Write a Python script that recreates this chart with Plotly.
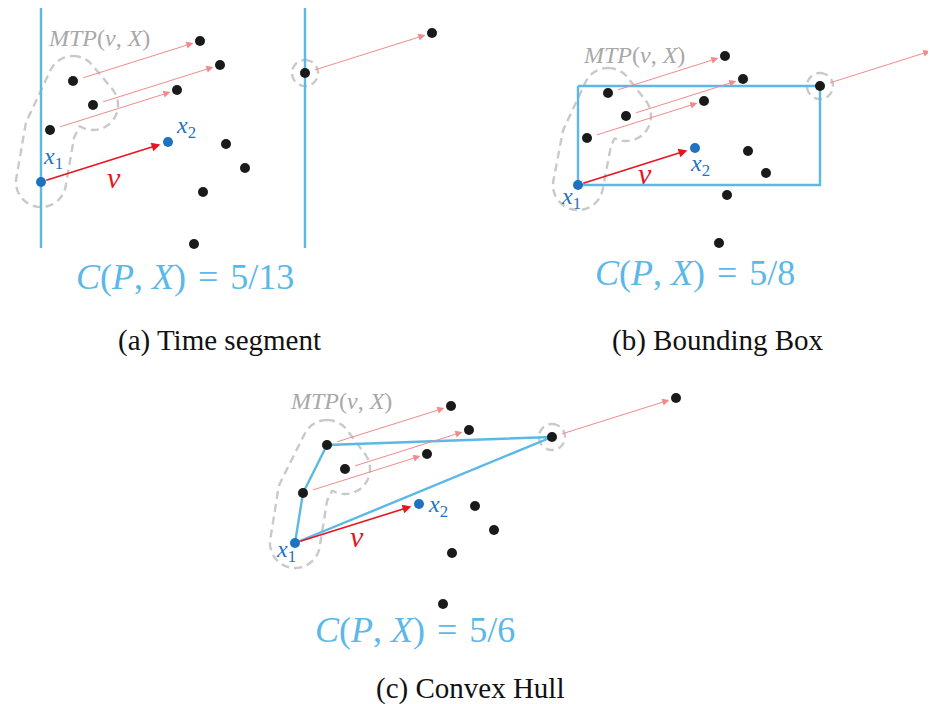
import numpy as np
import plotly.graph_objects as go

# ---------------- data (pixel-like diagram coordinates, y grows downward) -------------
# Panel (a) Time segment
a_x1 = [41, 182]
a_x2 = [168, 142]
a_px = [73, 93, 50, 305]          # points of P that get shifted by v (last = far one)
a_py = [81, 105, 130, 73]
a_ox = [226, 245, 203, 194]       # remaining points
a_oy = [144, 168, 192, 244]

# Panel (b) Bounding Box
b_x1 = [578, 185]
b_x2 = [695, 148]
b_px = [608, 626, 587, 820]
b_py = [93, 116, 138, 86]
b_ox = [748, 766, 727, 719]
b_oy = [151, 173, 195, 243]

# Panel (c) Convex Hull
c_x1 = [295, 543]
c_x2 = [419, 504]
c_px = [327, 345, 303, 552]
c_py = [445, 469, 493, 437]
c_ox = [475, 494, 452, 443]
c_oy = [506, 530, 553, 604]

eq_texts = ["5/13", "5/8", "5/6"]
captions = ["(a) Time segment", "(b) Bounding Box", "(c) Convex Hull"]

# ---------------- styles ----------------
LBLUE = "#5cb8e6"
DBLUE = "#1f72c0"
RED = "#e8141e"
PINK = "#f28a8a"
GRAY = "#c9c9c9"
TGRAY = "#a8a8a8"
BLACK = "#1a1a1a"
SERIF = "Liberation Serif"

fig = go.Figure()


def seg_dist(X, Y, p, q):
    p = np.asarray(p, float); q = np.asarray(q, float)
    d = q - p
    L = (d ** 2).sum()
    if L == 0:
        return np.hypot(X - p[0], Y - p[1])
    t = np.clip(((X - p[0]) * d[0] + (Y - p[1]) * d[1]) / L, 0, 1)
    return np.hypot(X - (p[0] + t * d[0]), Y - (p[1] + t * d[1]))


def blob(x1, px, py):
    # dashed outline around x1 -> p3 -> p1 -> p2 chain, and small circle round far point
    chain = [tuple(x1), (px[2], py[2]), (px[0], py[0]), (px[1], py[1])]
    far = (px[3], py[3])
    xs_all = [c[0] for c in chain] + [far[0]]
    ys_all = [c[1] for c in chain] + [far[1]]
    gx = np.arange(min(xs_all) - 40, max(xs_all) + 40, 1.0)
    gy = np.arange(min(ys_all) - 40, max(ys_all) + 40, 1.0)
    X, Y = np.meshgrid(gx, gy)
    d = np.full(X.shape, np.inf)
    for i in range(len(chain) - 1):
        d = np.minimum(d, seg_dist(X, Y, chain[i], chain[i + 1]))
    f = np.minimum(d / 25.0, np.hypot(X - far[0], Y - far[1]) / 13.0)
    fig.add_trace(go.Contour(
        x=gx, y=gy, z=f, showscale=False, hoverinfo="skip",
        contours=dict(start=1, end=1, size=1, coloring="none"),
        line=dict(color=GRAY, width=2.4, dash="8px,5px", smoothing=1.0),
    ))


def hull(pts):
    pts = sorted(set(pts))
    def cross(o, a, b):
        return (a[0]-o[0])*(b[1]-o[1]) - (a[1]-o[1])*(b[0]-o[0])
    lower, upper = [], []
    for p in pts:
        while len(lower) >= 2 and cross(lower[-2], lower[-1], p) <= 0:
            lower.pop()
        lower.append(p)
    for p in reversed(pts):
        while len(upper) >= 2 and cross(upper[-2], upper[-1], p) <= 0:
            upper.pop()
        upper.append(p)
    return lower[:-1] + upper[:-1]


def panel(x1, x2, px, py, ox, oy, kind, labs):
    blob(x1, px, py)
    Px = [x1[0]] + px
    Py = [x1[1]] + py
    lw = 2.4
    if kind == "a":
        for xv in (min(Px), max(Px)):
            fig.add_trace(go.Scatter(x=[xv, xv], y=[8, 248], mode="lines",
                                     line=dict(color=LBLUE, width=lw), hoverinfo="skip"))
    elif kind == "b":
        x0, x1r, y0, y1r = min(Px), max(Px), min(Py), max(Py)
        fig.add_trace(go.Scatter(x=[x0, x1r, x1r, x0, x0], y=[y0, y0, y1r, y1r, y0],
                                 mode="lines", line=dict(color=LBLUE, width=lw), hoverinfo="skip"))
    else:
        h = hull(list(zip(Px, Py)))
        h = h + [h[0]]
        fig.add_trace(go.Scatter(x=[p[0] for p in h], y=[p[1] for p in h], mode="lines",
                                 line=dict(color=LBLUE, width=lw), hoverinfo="skip"))
    vx, vy = x2[0] - x1[0], x2[1] - x1[1]
    tx = [p + vx for p in px]
    ty = [p + vy for p in py]
    # black points
    fig.add_trace(go.Scatter(x=px + tx + ox, y=py + ty + oy, mode="markers",
                             marker=dict(color=BLACK, size=10), hoverinfo="skip", cliponaxis=False))
    fig.add_trace(go.Scatter(x=[x1[0], x2[0]], y=[x1[1], x2[1]], mode="markers",
                             marker=dict(color=DBLUE, size=10), hoverinfo="skip"))
    # pink translation arrows
    for sx, sy, ex, ey in zip(px, py, tx, ty):
        fig.add_annotation(x=ex, y=ey, ax=sx, ay=sy, xref="x", yref="y", axref="x", ayref="y",
                           text="", showarrow=True, arrowhead=2, arrowsize=1.4, arrowwidth=1,
                           arrowcolor=PINK, standoff=7, startstandoff=9)
    # v arrow
    fig.add_annotation(x=x2[0], y=x2[1], ax=x1[0], ay=x1[1], xref="x", yref="y", axref="x",
                       ayref="y", text="", showarrow=True, arrowhead=2, arrowsize=1.1,
                       arrowwidth=1.6, arrowcolor=RED, standoff=8, startstandoff=4)
    (x1s, x1y), (x2s, x2y), (vs, vys) = labs
    fig.add_annotation(x=x1[0], y=x1[1], xshift=x1s, yshift=x1y, text="<i>x</i><sub>1</sub>",
                       showarrow=False, font=dict(family=SERIF, size=24, color=DBLUE))
    fig.add_annotation(x=x2[0], y=x2[1], xshift=x2s, yshift=x2y, text="<i>x</i><sub>2</sub>",
                       showarrow=False, font=dict(family=SERIF, size=24, color=DBLUE))
    fig.add_annotation(x=(x1[0] + x2[0]) / 2, y=(x1[1] + x2[1]) / 2, xshift=vs, yshift=vys,
                       text="<i>v</i>", showarrow=False, font=dict(family=SERIF, size=30, color=RED))


panel(a_x1, a_x2, a_px, a_py, a_ox, a_oy, "a", ((12, 24), (18, 15), (9, -15)))
panel(b_x1, b_x2, b_px, b_py, b_ox, b_oy, "b", ((-7, -13), (5, -17), (8, -7)))
panel(c_x1, c_x2, c_px, c_py, c_ox, c_oy, "c", ((-9, -8), (19, -2), (0, -13)))

# MTP labels
for (lx, ly) in [(46, 38), (581, 55), (288, 401)]:
    fig.add_annotation(x=lx, y=ly, xanchor="left", text="<i>MTP</i>(<i>v</i>, <i>X</i>)",
                       showarrow=False, font=dict(family=SERIF, size=24, color=TGRAY))

# equations
for (ex, ey), t in zip([(185, 277), (695, 273), (415, 630)], eq_texts):
    fig.add_annotation(x=ex, y=ey, text="<i>C</i>(<i>P</i>, <i>X</i>)\u2004=\u2004" + t,
                       showarrow=False, font=dict(family=SERIF, size=36, color=LBLUE))

# captions
for (cx, cy), t in zip([(219, 340), (718, 340), (470, 688)], captions):
    fig.add_annotation(x=cx, y=cy, text=t, showarrow=False,
                       font=dict(family=SERIF, size=29, color="#111111"))

# the page body has an 8px margin: shift the ranges so one unit = one window pixel
fig.update_layout(
    width=936, height=704, margin=dict(l=0, r=0, t=0, b=0),
    paper_bgcolor="white", plot_bgcolor="white", showlegend=False,
    xaxis=dict(range=[8, 944], visible=False, fixedrange=True),
    yaxis=dict(range=[712, 8], visible=False, fixedrange=True),
)
fig.write_html("out.html")
